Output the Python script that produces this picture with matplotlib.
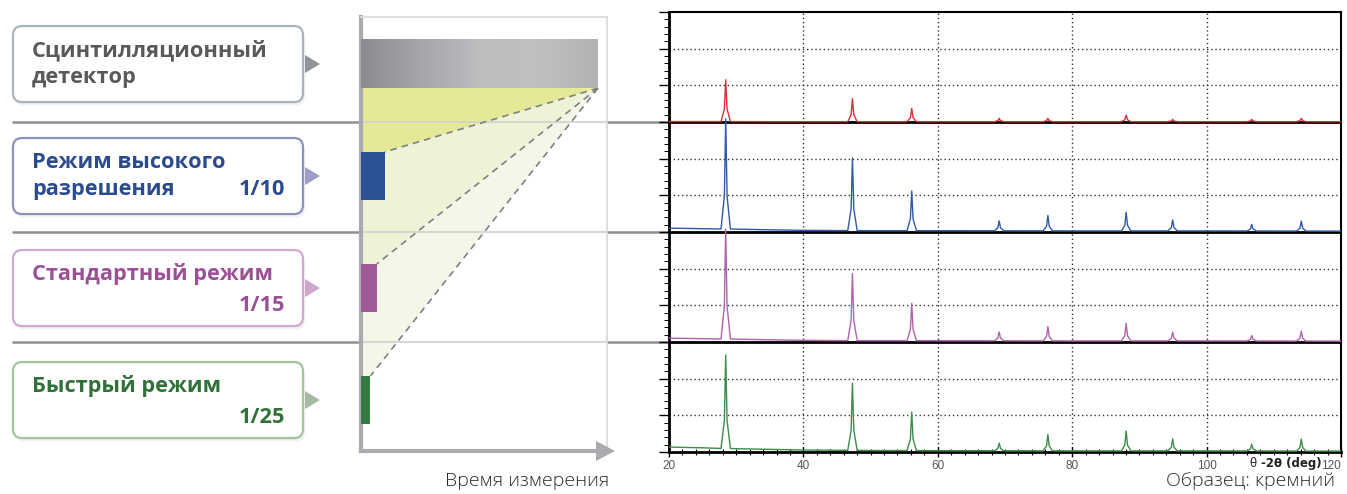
import numpy as np
import matplotlib
matplotlib.use("Agg")
import matplotlib.pyplot as plt
from matplotlib.patches import FancyBboxPatch, Polygon
from matplotlib.colors import LinearSegmentedColormap
import matplotlib.transforms as mtransforms

plt.rcParams['font.family'] = ['Open Sans', 'DejaVu Sans']

# ---------------- data ----------------
mode_labels = ["Сцинтилляционный\nдетектор", "Режим высокого\nразрешения",
               "Стандартный режим", "Быстрый режим"]
ratio_labels = ["", "1/10", "1/15", "1/25"]
rel_time = [1.0, 1 / 10, 1 / 15, 1 / 25]

# Si diffraction peaks (2theta, deg) and relative heights per panel
peak_pos = [28.44, 47.30, 56.12, 69.13, 76.38, 88.03, 94.95, 106.71, 114.09]
h_scint = [0.38, 0.21, 0.12, 0.03, 0.03, 0.06, 0.02, 0.02, 0.03]
h_high = [1.00, 0.66, 0.36, 0.09, 0.14, 0.17, 0.10, 0.06, 0.09]
h_std = [1.00, 0.61, 0.34, 0.08, 0.13, 0.16, 0.08, 0.05, 0.09]
h_fast = [0.85, 0.61, 0.35, 0.07, 0.15, 0.18, 0.11, 0.06, 0.11]

bg_x = [20, 25, 30, 35, 40, 50, 60, 80, 100, 120]
bg_scint = [0.004, 0.004, 0.004, 0.003, 0.003, 0.003, 0.003, 0.003, 0.003, 0.003]
bg_high = [0.035, 0.030, 0.026, 0.020, 0.015, 0.012, 0.012, 0.010, 0.010, 0.008]
bg_std = [0.035, 0.030, 0.026, 0.020, 0.015, 0.012, 0.012, 0.010, 0.010, 0.008]
bg_fast = [0.045, 0.038, 0.030, 0.024, 0.018, 0.014, 0.012, 0.010, 0.010, 0.008]

x_ticks = [20, 40, 60, 80, 100, 120]

# ---------------- styles ----------------
text_cols = ['#58595b', '#2b4c8c', '#9b4f94', '#2f7138']
border_cols = ['#a7b5bb', '#8e90c0', '#d3a8d0', '#a6c3a0']
tri_cols = ['#909497', '#9c9ec7', '#cda6ca', '#a5bba1']
bar_cols = ['#a0a1a3', '#2b5297', '#a05a99', '#357a3e']
trace_cols = ['#d8303a', '#2f5aa6', '#b062ad', '#3c8c4a']

W, H = 1347, 494
fig = plt.figure(figsize=(W / 100, H / 100), dpi=100)
fig.patch.set_facecolor('white')

# background overlay (pixel coords)
ax_bg = fig.add_axes([0, 0, 1, 1], zorder=0)
ax_bg.set_xlim(0, W)
ax_bg.set_ylim(H, 0)
ax_bg.axis('off')

# ---------------- right chart ----------------
ax_r = fig.add_axes([669 / W, (H - 452) / H, 672 / W, 440 / H], zorder=2)
ax_r.set_xlim(20, 120)
ax_r.set_ylim(0, 4)
ax_r.set_facecolor('white')

traces = [(h_scint, bg_scint), (h_high, bg_high), (h_std, bg_std), (h_fast, bg_fast)]
shape_dx = [-0.7, -0.2, 0.0, 0.2, 0.7]
shape_f = [0.0, 0.3, 1.0, 0.3, 0.0]
for i, (hts, bgs) in enumerate(traces):
    off = 3 - i
    pts = list(zip(bg_x, bgs))
    for p, h in zip(peak_pos, hts):
        b = float(np.interp(p, bg_x, bgs))
        for dx, f in zip(shape_dx, shape_f):
            pts.append((p + dx, b + f * h))
    pts.sort()
    xs = [q[0] for q in pts]
    ys = [q[1] + off for q in pts]
    ax_r.plot(xs, ys, color=trace_cols[i], lw=1.0, zorder=4)

for gx in x_ticks[1:-1]:
    ax_r.axvline(gx, color='#333333', lw=1.0, ls=(0, (1, 2)), zorder=1)
for k in range(4):
    for fr in (1 / 3, 2 / 3):
        ax_r.axhline(k + fr, color='#333333', lw=1.0, ls=(0, (1, 2)), zorder=1)
for k in (1, 2, 3):
    ax_r.axhline(k, color='black', lw=2.0, zorder=3)

for s in ax_r.spines.values():
    s.set_color('black')
ax_r.spines['left'].set_linewidth(2.0)
ax_r.spines['bottom'].set_linewidth(2.0)
ax_r.spines['top'].set_linewidth(1.5)
ax_r.spines['right'].set_linewidth(1.5)

ax_r.set_xticks(x_ticks)
ax_r.set_xticks(np.arange(20, 121, 2), minor=True)
ax_r.set_xticklabels([str(t) for t in x_ticks], fontsize=8.5, color='#555555',
                     family=['Liberation Sans', 'DejaVu Sans'])
ax_r.get_xticklabels()[-1].set_horizontalalignment('right')
ax_r.tick_params(axis='x', which='major', direction='inout', length=7, width=1, pad=2)
ax_r.tick_params(axis='x', which='minor', direction='inout', length=4, width=0.8)
ax_r.set_yticks(np.arange(0, 4.001, 1 / 3))
ax_r.set_yticks(np.arange(0, 4.001, 1 / 15), minor=True)
ax_r.set_yticklabels([])
ax_r.tick_params(axis='y', which='major', direction='out', length=7, width=1)
ax_r.tick_params(axis='y', which='minor', direction='out', length=3.5, width=0.7)

bt = mtransforms.blended_transform_factory(ax_r.transData, ax_r.transAxes)
ax_r.text(106.4, -0.026, "θ", transform=bt, fontsize=8.5, ha='left', va='center',
          color='#222222', family=['DejaVu Sans'])
ax_r.text(108.1, -0.026, "-2θ (deg)", transform=bt, fontsize=8.5, ha='left', va='center',
          color='#222222', fontweight='bold', family=['DejaVu Sans'])

# connecting horizontal lines (at panel boundaries of right chart)
lt = mtransforms.blended_transform_factory(fig.transFigure, ax_r.transData)
for k in (1, 2, 3):
    ax_bg.plot([12 / W, 669 / W], [k, k], transform=lt, color='#8f8f8f', lw=1.8,
               solid_capstyle='butt', zorder=1)

# ---------------- middle panel ----------------
ax_m = fig.add_axes([361 / W, (H - 451) / H, (607 - 361) / W, (451 - 17) / H], zorder=1)
bar_h = 0.43
y_idx = np.arange(len(rel_time))
ax_m.set_facecolor('white')

apex = (rel_time[0], 0 + bar_h / 2)
ends = [(rel_time[i], i - bar_h / 2) for i in range(1, 4)]
fill_cols = ['#e5e996', '#eef2d6', '#f4f7e7']
for j in range(3):
    if j == 0:
        verts = [(0, bar_h / 2), apex, ends[0], (0, ends[0][1])]
    else:
        verts = [(0, ends[j - 1][1]), ends[j - 1], apex, ends[j], (0, ends[j][1])]
    ax_m.add_patch(Polygon(verts, closed=True, facecolor=fill_cols[j], edgecolor='none', zorder=1))

# light lines across panel
mt = mtransforms.blended_transform_factory(ax_m.transAxes, ax_r.transData)
for k in (1, 2, 3):
    ax_m.plot([0, 1], [k, k], transform=mt, color='#cfcfcf', lw=1.5, alpha=0.8, zorder=2)

for e in ends:
    ax_m.plot([apex[0], e[0]], [apex[1], e[1]], color='#808080', lw=1.2,
              ls=(0, (4, 3)), zorder=3)

bars = ax_m.barh(y_idx, rel_time, height=bar_h, color=bar_cols, zorder=4)
bars[0].set_alpha(0.0)
gcmap = LinearSegmentedColormap.from_list('g', ['#8b8c8f', '#a5a6a9', '#bcbdbf', '#bfc0c2', '#b2b3b5'])
grad = np.linspace(0, 1, 256).reshape(1, -1)
ax_m.imshow(grad, cmap=gcmap, aspect='auto', zorder=4,
            extent=(0, rel_time[0], 0 + bar_h / 2, 0 - bar_h / 2))

ax_m.set_xlim(0, 1.038)
ax_m.set_ylim(3.455, -0.42)
ax_m.set_xticks([])
ax_m.set_yticks([])
ax_m.spines['left'].set_color('#a9abae')
ax_m.spines['left'].set_linewidth(3)
ax_m.spines['bottom'].set_color('#a9abae')
ax_m.spines['bottom'].set_linewidth(3)
ax_m.spines['top'].set_color('#dcdcdc')
ax_m.spines['top'].set_linewidth(1.3)
ax_m.spines['right'].set_color('#dcdcdc')
ax_m.spines['right'].set_linewidth(1.3)

# foreground overlay
ax_fg = fig.add_axes([0, 0, 1, 1], zorder=5)
ax_fg.set_xlim(0, W)
ax_fg.set_ylim(H, 0)
ax_fg.axis('off')
ax_fg.patch.set_alpha(0)

# axis arrow
ax_fg.add_patch(Polygon([(596, 441), (615, 451), (596, 461)], closed=True,
                        facecolor='#a9abae', edgecolor='none'))
ax_fg.plot([598, 607], [451, 451], color='#a9abae', lw=3, solid_capstyle='butt')

# boxes
for i in range(4):
    disp_y = ax_m.transData.transform((0, y_idx[i]))[1]
    cy = H - disp_y
    x0, x1 = 13, 303
    bh = 76
    ax_fg.add_patch(FancyBboxPatch((x0 + 2, cy - bh / 2 + 3), x1 - x0, bh,
                                   boxstyle='round,pad=0,rounding_size=9',
                                   facecolor='#000000', alpha=0.06, edgecolor='none'))
    ax_fg.add_patch(FancyBboxPatch((x0, cy - bh / 2), x1 - x0, bh,
                                   boxstyle='round,pad=0,rounding_size=9',
                                   facecolor='white', edgecolor=border_cols[i], lw=1.6))
    ax_fg.add_patch(Polygon([(305, cy - 9), (320, cy), (305, cy + 9)], closed=True,
                            facecolor=tri_cols[i], edgecolor='none'))
    lines = mode_labels[i].split("\n")
    ax_fg.text(32, cy - 14, lines[0], fontsize=15.7, fontweight='bold', color=text_cols[i],
               ha='left', va='center')
    if len(lines) > 1:
        ax_fg.text(32, cy + 13, lines[1], fontsize=15.7, fontweight='bold', color=text_cols[i],
                   ha='left', va='center')
        if ratio_labels[i]:
            ax_fg.text(285, cy + 13, ratio_labels[i], fontsize=15.7, fontweight='bold',
                       color=text_cols[i], ha='right', va='center')
    else:
        ax_fg.text(285, cy + 17, ratio_labels[i], fontsize=15.7, fontweight='bold',
                   color=text_cols[i], ha='right', va='center')

ax_fg.text(527, 481, "Время измерения", fontsize=14, color='#2a2a2a', ha='center',
           va='center', fontweight='light')
ax_fg.text(1250, 481, "Образец: кремний", fontsize=14, color='#2a2a2a', ha='center',
           va='center', fontweight='light')

fig.savefig('out.png', dpi=100, facecolor='white')
